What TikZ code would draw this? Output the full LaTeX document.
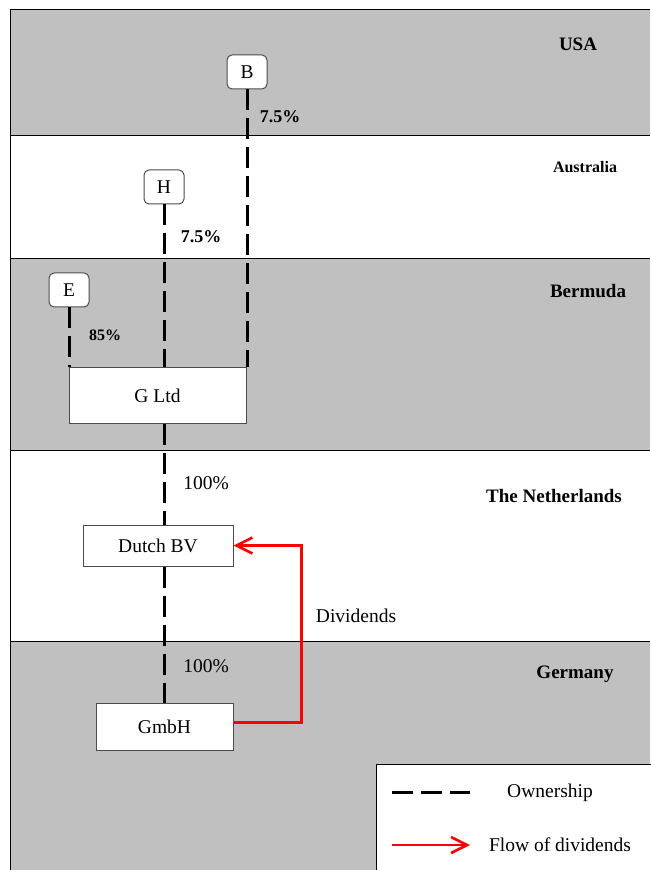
\documentclass[tikz,border=0pt]{standalone}
\usepackage{fontspec}
\setmainfont{Liberation Serif}
\usetikzlibrary{arrows.meta}
\definecolor{bandgray}{RGB}{192,192,192}
\tikzset{
  firm/.style={draw=black!70, fill=white, line width=0.5pt, inner sep=0pt, font=\fontsize{9.75}{11}\selectfont},
  holder/.style={firm, rounded corners=2.5pt, minimum width=20pt, minimum height=17pt},
  own/.style={line width=1.5pt, dash pattern=on 10.5pt off 4pt},
  divflow/.style={red, line width=1.3pt, -{Straight Barb[length=8pt,width=8pt,line width=1.3pt]}},
  share/.style={font=\bfseries\fontsize{9}{10}\selectfont},
  txt/.style={font=\fontsize{9.75}{11}\selectfont},
  country/.style={font=\bfseries\fontsize{9.5}{11}\selectfont},
}
\begin{document}
\begin{tikzpicture}[x=0.5pt,y=-0.5pt]
\useasboundingbox (0,0) rectangle (650,870);
% country bands
\fill[bandgray] (10,10) rectangle (650,136);
\fill[bandgray] (10,259) rectangle (650,450);
\fill[bandgray] (10,641) rectangle (650,870);
\draw[line width=0.5pt] (650,10) -- (10,10) -- (10,870);
\foreach \y in {136,259,450,641}
  \draw[line width=0.5pt] (10,\y) -- (650,\y);
\node[country] (usa) at (578,44) {USA};
\node[country, font=\bfseries\fontsize{8}{9}\selectfont] (aus) at (585,167) {Australia};
\node[country] (ber) at (588,291) {Bermuda};
\node[country] (nl) at (554,496) {The Netherlands};
\node[country] (ger) at (575,674) {Germany};

% companies
\node[holder] (B) at (247,72) {B};
\node[holder] (H) at (164,187) {H};
\node[holder] (E) at (69,290) {E};
\node[firm, minimum width=88.5pt, minimum height=27.5pt] (G) at (157.5,395.5) {G Ltd};
\node[firm, minimum width=75pt, minimum height=20.5pt] (BV) at (158,545.5) {Dutch BV};
\node[firm, minimum width=68.5pt, minimum height=23.5pt] (GmbH) at (164.5,726.5) {GmbH};

% ownership
\draw[own] (B.south) -- (B.south |- G.north);
\draw[own] (H.south) -- (H.south |- G.north);
\draw[own] (E.south) -- (E.south |- G.north);
\draw[own] (G.south -| H.south) -- (BV.north -| H.south);
\draw[own] (BV.south -| H.south) -- (GmbH.north -| H.south);
\node[share] (pB) at (280,117) {7.5\%};
\node[share] (pH) at (201,237) {7.5\%};
\node[share, font=\bfseries\fontsize{8}{9}\selectfont] (pE) at (105,335) {85\%};
\node[txt] (pBV) at (206,483) {100\%};
\node[txt] (pGmbH) at (206,666) {100\%};

% dividends
\coordinate (out) at ([yshift=2pt]GmbH.east);
\draw[divflow] (out) -- ++(68,0) |- (BV.east);
\node[txt] (div) at (356,616) {Dividends};

% legend
\draw[line width=0.5pt, fill=white] (376,764) rectangle (660,880);
\coordinate (ownA) at (392,792);
\coordinate (ownB) at (470,792);
\draw[own] (ownA) -- (ownB);
\node[txt] (ownT) at (550,793) {Ownership};
\coordinate (divA) at (392,845);
\coordinate (divB) at (470,845);
\draw[divflow] (divA) -- (divB);
\node[txt] (divT) at (560,845) {Flow of dividends};
\end{tikzpicture}
\end{document}
